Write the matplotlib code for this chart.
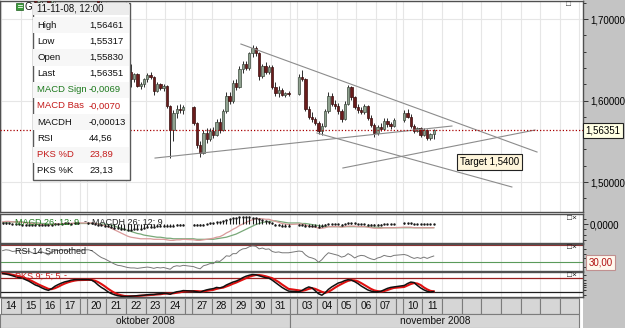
import matplotlib
matplotlib.use("Agg")
import matplotlib.pyplot as plt
from matplotlib.patches import Rectangle
from matplotlib.ticker import MultipleLocator, FixedLocator
import matplotlib.transforms as mtrans
import pandas as pd

plt.rcParams['font.family'] = ['Liberation Sans', 'DejaVu Sans']

# ---------------- data ----------------
day_dates = ['2008-10-14', '2008-10-15', '2008-10-16', '2008-10-17', '2008-10-20',
             '2008-10-21', '2008-10-22', '2008-10-23', '2008-10-24', '2008-10-27',
             '2008-10-28', '2008-10-29', '2008-10-30', '2008-10-31', '2008-11-03',
             '2008-11-04', '2008-11-05', '2008-11-06', '2008-11-07', '2008-11-10',
             '2008-11-11']
day_labels = ['14', '15', '16', '17', '20', '21', '22', '23', '24', '27', '28', '29',
              '30', '31', '03', '04', '05', '06', '07', '10', '11']
month_labels = ['oktober 2008', 'november 2008']
bars_per_day = [6] * 20 + [4]
future_cells = 7

opens = [1.7460, 1.7490, 1.7530, 1.7500, 1.7430, 1.7420,
         1.7410, 1.7380, 1.7320, 1.7350, 1.7250, 1.7210,
         1.7240, 1.7270, 1.7230, 1.7150, 1.7230, 1.7310,
         1.7300, 1.7340, 1.7310, 1.7260, 1.7370, 1.7350,
         1.7330, 1.7370, 1.7360, 1.7280, 1.7200, 1.7150,
         1.7110, 1.7040, 1.6960, 1.6850, 1.6740, 1.6700,
         1.6590, 1.6350, 1.6260, 1.6320, 1.6180, 1.6200,
         1.6260, 1.6310, 1.6290, 1.6120, 1.6200, 1.6150,
         1.6180, 1.5930, 1.5640, 1.5850, 1.5900, 1.5880,
         1.5920, 1.5720, 1.5460, 1.5360, 1.5600, 1.5530,
         1.5620, 1.5580, 1.5740, 1.5640, 1.5870, 1.6060,
         1.5990, 1.6220, 1.6160, 1.6390, 1.6450, 1.6400,
         1.6580, 1.6640, 1.6580, 1.6300, 1.6420, 1.6350,
         1.6410, 1.6170, 1.6090, 1.6130, 1.6070, 1.6090,
         1.6080, 1.6290, 1.6260, 1.5900, 1.5800, 1.5770,
         1.5730, 1.5630, 1.5690, 1.5870, 1.6060, 1.5960,
         1.5930, 1.5870, 1.5770, 1.5960, 1.6160, 1.6040,
         1.5920, 1.5880, 1.5860, 1.5930, 1.5790, 1.5700,
         1.5600, 1.5670, 1.5650, 1.5750, 1.5710, 1.5690,
         1.5760, 1.5850, 1.5800, 1.5690, 1.5630, 1.5660,
         1.5580, 1.5640, 1.5540, 1.55830]
highs = [1.7520, 1.7560, 1.7580, 1.7540, 1.7470, 1.7450,
         1.7440, 1.7410, 1.7370, 1.7380, 1.7290, 1.7260,
         1.7290, 1.7310, 1.7260, 1.7250, 1.7330, 1.7340,
         1.7360, 1.7380, 1.7350, 1.7390, 1.7410, 1.7370,
         1.7390, 1.7420, 1.7380, 1.7300, 1.7230, 1.7180,
         1.7140, 1.7070, 1.6990, 1.6880, 1.6790, 1.6720,
         1.6620, 1.6450, 1.6340, 1.6340, 1.6230, 1.6280,
         1.6340, 1.6350, 1.6300, 1.6230, 1.6220, 1.6200,
         1.6190, 1.5950, 1.5880, 1.5940, 1.5960, 1.5950,
         1.5930, 1.5740, 1.5500, 1.5640, 1.5660, 1.5660,
         1.5680, 1.5770, 1.5780, 1.5900, 1.6100, 1.6110,
         1.6250, 1.6260, 1.6420, 1.6480, 1.6490, 1.6600,
         1.6680, 1.6670, 1.6600, 1.6450, 1.6470, 1.6440,
         1.6440, 1.6230, 1.6180, 1.6150, 1.6110, 1.6120,
         1.6320, 1.6380, 1.6280, 1.5930, 1.5860, 1.5800,
         1.5750, 1.5720, 1.5900, 1.6100, 1.6090, 1.6010,
         1.5970, 1.5890, 1.5990, 1.6190, 1.6180, 1.6060,
         1.5960, 1.5920, 1.5960, 1.5950, 1.5820, 1.5720,
         1.5700, 1.5720, 1.5780, 1.5790, 1.5740, 1.5780,
         1.5880, 1.5900, 1.5830, 1.5710, 1.5680, 1.5680,
         1.5660, 1.5650, 1.5600, 1.56461]
lows = [1.7420, 1.7470, 1.7480, 1.7410, 1.7380, 1.7390,
        1.7360, 1.7300, 1.7280, 1.7230, 1.7180, 1.7190,
        1.7200, 1.7220, 1.7110, 1.7130, 1.7210, 1.7270,
        1.7280, 1.7290, 1.7230, 1.7240, 1.7320, 1.7320,
        1.7310, 1.7340, 1.7250, 1.7180, 1.7120, 1.7080,
        1.7020, 1.6930, 1.6820, 1.6700, 1.6660, 1.6560,
        1.6330, 1.6170, 1.6230, 1.6160, 1.6140, 1.6170,
        1.6230, 1.6270, 1.6070, 1.6100, 1.6130, 1.6120,
        1.5910, 1.5290, 1.5500, 1.5790, 1.5850, 1.5840,
        1.5700, 1.5420, 1.5310, 1.5340, 1.5480, 1.5500,
        1.5540, 1.5560, 1.5600, 1.5620, 1.5850, 1.5960,
        1.5970, 1.6130, 1.6150, 1.6340, 1.6380, 1.6380,
        1.6540, 1.6550, 1.6250, 1.6280, 1.6320, 1.6330,
        1.6140, 1.6050, 1.6040, 1.6050, 1.6040, 1.6050,
        1.6070, 1.6240, 1.5870, 1.5770, 1.5740, 1.5700,
        1.5590, 1.5580, 1.5670, 1.5850, 1.5930, 1.5900,
        1.5840, 1.5740, 1.5760, 1.5950, 1.6010, 1.5900,
        1.5850, 1.5830, 1.5840, 1.5760, 1.5680, 1.5550,
        1.5580, 1.5620, 1.5640, 1.5680, 1.5650, 1.5670,
        1.5740, 1.5780, 1.5660, 1.5600, 1.5610, 1.5550,
        1.5570, 1.5510, 1.5520, 1.55317]
closes = [1.7490, 1.7530, 1.7500, 1.7430, 1.7420, 1.7410,
          1.7380, 1.7320, 1.7350, 1.7250, 1.7210, 1.7240,
          1.7270, 1.7230, 1.7150, 1.7230, 1.7310, 1.7300,
          1.7340, 1.7310, 1.7260, 1.7370, 1.7350, 1.7330,
          1.7370, 1.7360, 1.7280, 1.7200, 1.7150, 1.7110,
          1.7040, 1.6960, 1.6850, 1.6740, 1.6700, 1.6590,
          1.6350, 1.6260, 1.6320, 1.6180, 1.6200, 1.6260,
          1.6310, 1.6290, 1.6120, 1.6200, 1.6150, 1.6180,
          1.5930, 1.5640, 1.5850, 1.5900, 1.5880, 1.5920,
          1.5720, 1.5460, 1.5360, 1.5600, 1.5530, 1.5620,
          1.5580, 1.5740, 1.5640, 1.5870, 1.6060, 1.5990,
          1.6220, 1.6160, 1.6390, 1.6450, 1.6400, 1.6580,
          1.6640, 1.6580, 1.6300, 1.6420, 1.6350, 1.6410,
          1.6170, 1.6090, 1.6130, 1.6070, 1.6090, 1.6080,
          1.6290, 1.6260, 1.5900, 1.5800, 1.5770, 1.5730,
          1.5630, 1.5690, 1.5870, 1.6060, 1.5960, 1.5930,
          1.5870, 1.5770, 1.5960, 1.6160, 1.6040, 1.5920,
          1.5880, 1.5860, 1.5930, 1.5790, 1.5700, 1.5600,
          1.5670, 1.5650, 1.5750, 1.5710, 1.5690, 1.5760,
          1.5850, 1.5800, 1.5690, 1.5630, 1.5660, 1.5580,
          1.5640, 1.5540, 1.5583, 1.56351]

macd_bas = [0.004, 0.005, 0.005, 0.004, 0.004, 0.004,
            0.003, 0.002, 0.002, 0.001, 0.000, 0.000,
            -0.001, -0.001, -0.002, -0.001, 0.000, 0.000,
            0.000, 0.001, 0.001, 0.001, 0.002, 0.002,
            0.002, 0.002, 0.001, 0.000, -0.002, -0.003,
            -0.005, -0.008, -0.011, -0.014, -0.017, -0.020,
            -0.023, -0.025, -0.026, -0.027, -0.028, -0.028,
            -0.028, -0.028, -0.029, -0.029, -0.029, -0.029,
            -0.030, -0.031, -0.031, -0.030, -0.030, -0.029,
            -0.030, -0.031, -0.031, -0.030, -0.029, -0.028,
            -0.027, -0.025, -0.024, -0.021, -0.017, -0.014,
            -0.010, -0.007, -0.003, 0.000, 0.003, 0.006,
            0.008, 0.010, 0.010, 0.010, 0.009, 0.009,
            0.007, 0.005, 0.003, 0.001, 0.000, -0.001,
            0.000, 0.000, -0.002, -0.004, -0.005, -0.006,
            -0.008, -0.008, -0.007, -0.005, -0.005, -0.005,
            -0.005, -0.006, -0.005, -0.004, -0.004, -0.004,
            -0.005, -0.005, -0.005, -0.006, -0.007, -0.008,
            -0.008, -0.008, -0.007, -0.007, -0.007, -0.007,
            -0.006, -0.006, -0.006, -0.007, -0.007, -0.007,
            -0.007, -0.007, -0.007, -0.0070]
macd_sign = [0.003, 0.003, 0.004, 0.004, 0.004, 0.004,
             0.004, 0.003, 0.003, 0.003, 0.002, 0.002,
             0.001, 0.001, 0.000, 0.000, 0.000, 0.000,
             0.000, 0.000, 0.000, 0.001, 0.001, 0.001,
             0.001, 0.001, 0.001, 0.001, 0.000, 0.000,
             -0.001, -0.002, -0.004, -0.006, -0.008, -0.010,
             -0.012, -0.014, -0.016, -0.018, -0.019, -0.021,
             -0.022, -0.023, -0.024, -0.025, -0.025, -0.026,
             -0.027, -0.027, -0.028, -0.028, -0.028, -0.028,
             -0.028, -0.029, -0.029, -0.029, -0.029, -0.029,
             -0.029, -0.028, -0.027, -0.026, -0.025, -0.023,
             -0.021, -0.019, -0.016, -0.013, -0.010, -0.007,
             -0.004, -0.001, 0.001, 0.003, 0.004, 0.005,
             0.006, 0.006, 0.005, 0.004, 0.003, 0.002,
             0.002, 0.001, 0.001, 0.000, -0.001, -0.002,
             -0.003, -0.004, -0.005, -0.005, -0.005, -0.005,
             -0.005, -0.005, -0.005, -0.005, -0.005, -0.005,
             -0.005, -0.005, -0.005, -0.005, -0.006, -0.006,
             -0.006, -0.007, -0.007, -0.007, -0.007, -0.007,
             -0.007, -0.007, -0.007, -0.007, -0.007, -0.007,
             -0.007, -0.007, -0.007, -0.0069]
macd_hist = [0.001, 0.002, 0.001, 0.000, 0.000, 0.000,
             -0.001, -0.001, -0.001, -0.002, -0.002, -0.002,
             -0.002, -0.002, -0.002, -0.001, 0.000, 0.000,
             0.000, 0.001, 0.001, 0.000, 0.001, 0.001,
             0.001, 0.001, 0.000, -0.001, -0.002, -0.003,
             -0.004, -0.006, -0.007, -0.008, -0.009, -0.010,
             -0.011, -0.011, -0.010, -0.009, -0.009, -0.007,
             -0.006, -0.005, -0.005, -0.004, -0.004, -0.003,
             -0.003, -0.004, -0.003, -0.002, -0.002, -0.001,
             -0.002, -0.002, -0.002, -0.001, 0.000, 0.001,
             0.002, 0.003, 0.003, 0.005, 0.008, 0.009,
             0.011, 0.012, 0.013, 0.013, 0.013, 0.013,
             0.012, 0.011, 0.009, 0.007, 0.005, 0.004,
             0.001, -0.001, -0.002, -0.003, -0.003, -0.003,
             -0.002, -0.001, -0.003, -0.004, -0.004, -0.004,
             -0.005, -0.004, -0.002, 0.000, 0.000, 0.000,
             0.000, -0.001, 0.000, 0.001, 0.001, 0.001,
             0.000, 0.000, 0.000, -0.001, -0.001, -0.002,
             -0.002, -0.001, 0.000, 0.000, 0.000, 0.000,
             0.001, 0.001, 0.001, 0.000, 0.000, 0.000,
             0.000, 0.000, 0.000, -0.00013]
rsi = [57, 59, 58, 55, 56, 58,
       57, 55, 56, 52, 50, 53,
       54, 51, 47, 53, 58, 57,
       59, 58, 55, 60, 59, 58,
       59, 57, 52, 46, 41, 38,
       34, 30, 26, 23, 22, 20,
       18, 17, 17, 16, 17, 18,
       19, 18, 16, 18, 17, 18,
       16, 14, 20, 22, 21, 23,
       20, 17, 15, 22, 24, 27,
       27, 33, 32, 38, 45, 44,
       50, 50, 57, 61, 62, 66,
       68, 67, 61, 63, 60, 61,
       55, 53, 54, 52, 52, 52,
       56, 55, 47, 42, 40, 37,
       30, 36, 45, 52, 50, 48,
       46, 42, 44, 50, 46, 40,
       44, 46, 45, 41, 38, 36,
       40, 42, 46, 44, 43, 46,
       48, 46, 42, 39, 41, 39,
       42, 39, 42, 44.56]
pks_k = [97, 95, 92, 88, 84, 80,
         78, 72, 66, 58, 50, 45,
         38, 32, 28, 35, 45, 52,
         58, 63, 66, 70, 72, 72,
         72, 70, 62, 50, 40, 32,
         22, 15, 10, 6, 4, 3,
         3, 4, 5, 6, 7, 8,
         10, 11, 11, 13, 14, 16,
         15, 12, 18, 22, 24, 27,
         25, 22, 20, 26, 30, 33,
         35, 40, 38, 42, 50, 56,
         62, 66, 72, 80, 86, 90,
         93, 92, 88, 84, 80, 78,
         70, 60, 50, 40, 32, 25,
         22, 28, 36, 42, 38, 26,
         14, 8, 18, 32, 42, 50,
         58, 62, 68, 72, 70, 64,
         56, 46, 38, 30, 25, 22,
         22, 24, 30, 36, 40, 42,
         48, 56, 62, 60, 48, 38,
         30, 24, 21, 23.13]
pks_d = [98, 97, 95, 92, 89, 86,
         82, 78, 72, 66, 59, 52,
         46, 40, 34, 33, 37, 43,
         50, 56, 61, 65, 68, 70,
         71, 71, 68, 62, 54, 45,
         35, 26, 18, 12, 8, 5,
         4, 4, 4, 5, 6, 7,
         8, 9, 10, 11, 12, 14,
         15, 15, 16, 18, 20, 23,
         25, 25, 24, 24, 26, 28,
         30, 34, 37, 39, 44, 49,
         55, 60, 66, 72, 78, 84,
         88, 91, 91, 89, 86, 82,
         78, 70, 62, 52, 43, 34,
         28, 26, 29, 34, 37, 34,
         28, 22, 18, 22, 30, 39,
         47, 54, 61, 67, 70, 69,
         65, 58, 50, 42, 34, 28,
         25, 23, 25, 29, 34, 38,
         42, 48, 54, 58, 56, 50,
         40, 32, 26, 23.89]

last_price = 1.56351
rsi_level = 30
rsi_upper = 70
pks_levels = (20, 80)

info_time = '11-11-08, 12:00'
info_labels = ['High', 'Low', 'Open', 'Last', 'MACD Sign', 'MACD Bas', 'MACDH',
               'RSI', 'PKS %D', 'PKS %K']
info_values = ['1,56461', '1,55317', '1,55830', '1,56351', '-0,0069', '-0,0070',
               '-0,00013', '44,56', '23,89', '23,13']
info_colors = ['#111111', '#111111', '#111111', '#111111', '#1d7a1d', '#c41a1a',
               '#111111', '#111111', '#c41a1a', '#111111']

# drawn trend lines: (x in trading-day units, price)
trend_lines = [((12.21, 1.6693), (27.28, 1.5368)),
               ((7.84, 1.5294), (22.95, 1.5687)),
               ((16.08, 1.5601), (26.00, 1.4939)),
               ((17.40, 1.5172), (27.18, 1.5638))]
target_text = 'Target 1,5400'
target_pos = (24.86, 1.5245)

# ---------------- layout helpers ----------------
W, H = 625, 328
fig = plt.figure(figsize=(W / 100, H / 100), dpi=100)
fig.patch.set_facecolor('white')
fig.add_artist(Rectangle((583 / W, 0), 42 / W, 1, transform=fig.transFigure,
                         fc='#c4c4c4', ec='none', zorder=0))


def px_axes(x0, y0, x1, y1, **kw):
    return fig.add_axes([x0 / W, 1 - y1 / H, (x1 - x0) / W, (y1 - y0) / H], **kw)


GAP = 0.36
dates = pd.to_datetime(day_dates)
starts = []
u = 0.0
for i, d in enumerate(dates):
    if i > 0:
        u += 1.0
        if (d - dates[i - 1]).days > 1:
            u += GAP
    starts.append(u)
bar_x = []
for s, n in zip(starts, bars_per_day):
    for j in range(n):
        bar_x.append(s + (j + 0.5) / 6.0)
last_end = starts[-1] + 1.0
future_starts = [last_end + k for k in range(future_cells)]
edges = sorted(set(starts + [s + 1 for s in starts] + future_starts +
                   [f + 1 for f in future_starts]))
XL = (-0.05, 29.62)
SPINE = '#505050'


def style_panel(a):
    a.set_xlim(*XL)
    a.set_xticks([])
    for sp in a.spines.values():
        sp.set_color(SPINE)
        sp.set_linewidth(1.0)
    for e in edges:
        a.axvline(e, color='#e6e6e6', lw=0.8, zorder=0)
    a.yaxis.tick_right()
    a.tick_params(axis='y', which='both', direction='out', color='#333333',
                  labelsize=7, pad=1.5, width=0.7)
    a.tick_params(axis='y', which='major', length=3.5)
    a.tick_params(axis='y', which='minor', length=2.5)


# ---------------- main price panel ----------------
ax = px_axes(0, 1, 583, 212)
style_panel(ax)
ax.set_ylim(1.4632, 1.7221)
for p in (1.5, 1.6, 1.7):
    ax.axhline(p, color='#e6e6e6', lw=0.8, zorder=0)
ax.set_yticks([1.5, 1.6, 1.7])
ax.set_yticklabels(['1,50000', '1,60000', '1,70000'])
ax.yaxis.set_minor_locator(MultipleLocator(0.02))

bw = 0.12
for x, o, h, l, c in zip(bar_x, opens, highs, lows, closes):
    up = c >= o
    ax.vlines(x, l, h, color='#2b2b2b', lw=0.7, zorder=2)
    lo, hi = min(o, c), max(o, c)
    ax.add_patch(Rectangle((x - bw / 2, lo), bw, max(hi - lo, 0.0004),
                           fc='#90a290' if up else '#6a1c1c',
                           ec='#3d4a3d' if up else '#3a0e0e', lw=0.5, zorder=3))

for (x1, y1), (x2, y2) in trend_lines:
    ax.plot([x1, x2], [y1, y2], color='#8c8c8c', lw=0.8, zorder=4)
ax.axhline(last_price, color='#a80000', lw=0.9, ls=(0, (1, 1.6)), zorder=5)
ax.text(*target_pos, target_text, ha='center', va='center', fontsize=7, zorder=6,
        bbox=dict(boxstyle='square,pad=0.3', fc='#fff6dc', ec='#222222', lw=0.8))
tr = mtrans.blended_transform_factory(ax.transAxes, ax.transData)
ax.text(1.004, last_price, '1,56351', transform=tr, ha='left', va='center',
        fontsize=7, zorder=6, clip_on=False,
        bbox=dict(boxstyle='square,pad=0.25', fc='#ffffe4', ec='#222222', lw=0.8))

# ---------------- MACD panel ----------------
am = px_axes(0, 214, 583, 243)
style_panel(am)
am.set_ylim(-0.036, 0.019)
am.plot(bar_x, macd_sign, color='#78a878', lw=0.9, zorder=3)
am.plot(bar_x, macd_bas, color='#d99a9a', lw=0.9, zorder=3)
am.vlines(bar_x, 0, macd_hist, color='#1a1a1a', lw=0.8, zorder=4)
am.plot(bar_x, macd_hist, ls='none', marker='s', ms=0.7, color='#1a1a1a', zorder=4)
am.set_yticks([0])
am.set_yticklabels(['0,0000'])
am.yaxis.set_minor_locator(MultipleLocator(0.01))

# ---------------- RSI panel ----------------
ar = px_axes(0, 244, 583, 271)
style_panel(ar)
ar.set_ylim(9.9, 72.3)
ar.axhline(rsi_upper, color='#9a3030', lw=0.8, zorder=2)
ar.axhline(rsi_level, color='#5a9a5a', lw=0.8, zorder=2)
ar.plot(bar_x, rsi, color='#777777', lw=0.7, zorder=3)
ar.set_yticks([])
ar.yaxis.set_minor_locator(FixedLocator([20, 40, 50, 60]))
trr = mtrans.blended_transform_factory(ar.transAxes, ar.transData)
ar.text(1.01, rsi_level, '30,00', transform=trr, color='#b01010', fontsize=7,
        ha='left', va='center', clip_on=False, zorder=6,
        bbox=dict(boxstyle='square,pad=0.25', fc='#fff8ee', ec='#c09090', lw=0.8))

# ---------------- PKS panel ----------------
ap = px_axes(0, 272, 583, 297)
style_panel(ap)
ap.set_ylim(0.7, 103.4)
ap.axhline(pks_levels[1], color='#9a2020', lw=0.9, zorder=2)
ap.axhline(pks_levels[0], color='#202020', lw=0.9, zorder=2)
ap.plot(bar_x, pks_d, color='#e01010', lw=1.5, zorder=3)
ap.plot(bar_x, pks_k, color='#111111', lw=1.1, zorder=4)
ap.set_yticks([])
ap.yaxis.set_minor_locator(FixedLocator([10, 30, 40, 50, 60, 70, 90]))

# ---------------- date rows ----------------
ad = px_axes(0, 297, 583, 328)
ad.set_xlim(*XL)
ad.set_ylim(31, 0)
ad.axis('off')
cell_fc, cell_ec = '#d6d6d6', '#7c7c7c'
for s, lab in zip(starts, day_labels):
    ad.add_patch(Rectangle((s, 0.5), 1.0, 16.5, fc=cell_fc, ec=cell_ec, lw=0.8))
    ad.text(s + 0.5, 9.0, lab, ha='center', va='center', fontsize=7.3, color='#111111')
for i in range(1, len(starts)):
    if starts[i] - starts[i - 1] > 1.01:
        ad.add_patch(Rectangle((starts[i - 1] + 1, 0.5), starts[i] - starts[i - 1] - 1,
                               16.5, fc=cell_fc, ec=cell_ec, lw=0.8))
for f in future_starts:
    ad.add_patch(Rectangle((f, 0.5), 1.0, 16.5, fc=cell_fc, ec=cell_ec, lw=0.8))
oct_end = starts[13] + 1.0
ad.add_patch(Rectangle((XL[0], 17), oct_end - XL[0], 14, fc=cell_fc, ec=cell_ec, lw=0.8))
ad.add_patch(Rectangle((oct_end, 17), future_starts[-1] + 1 - oct_end, 14,
                       fc=cell_fc, ec=cell_ec, lw=0.8))
ad.text((XL[0] + oct_end) / 2, 24.3, month_labels[0], ha='center', va='center',
        fontsize=7.3, color='#111111')
ad.text((oct_end + future_starts[-1] + 1) / 2, 24.3, month_labels[1], ha='center',
        va='center', fontsize=7.3, color='#111111')

# ---------------- overlay: info box, icons, labels ----------------
ov = fig.add_axes([0, 0, 1, 1], zorder=10)
ov.set_xlim(0, W)
ov.set_ylim(H, 0)
ov.axis('off')
ov.patch.set_alpha(0)

ov.add_patch(Rectangle((16, 3), 7, 6.5, fc='#3c9c3c', ec='#1f5f1f', lw=0.5))
ov.plot([17.5, 21.5], [5.2, 5.2], color='white', lw=0.6)
ov.plot([17.5, 21.5], [7.3, 7.3], color='white', lw=0.6)
ov.text(24.5, 7, 'G', fontsize=7, va='center', ha='left', color='#111111')

ov.add_patch(Rectangle((32.5, 2.5), 97.5, 177, fc='white', ec='#5a5a5a', lw=1.0))
ov.add_patch(Rectangle((33.2, 3.2), 96, 12, fc='#ececec', ec='none'))
for i in range(len(info_labels)):
    yc = 25 + i * 16.2
    if i % 2 == 0:
        ov.add_patch(Rectangle((33.2, yc - 8.1), 96, 16.2, fc='#f7f7f7', ec='none'))
ov.text(37, 8.5, info_time, fontsize=6.9, va='center', ha='left', color='#111111')
for i, (lab, val, col) in enumerate(zip(info_labels, info_values, info_colors)):
    yc = 25 + i * 16.2
    ov.text(37, yc, lab, fontsize=6.8, va='center', ha='left', color=col)
    ov.text(89, yc, val, fontsize=6.8, va='center', ha='left', color=col)

ov.text(15, 222, 'MACD 26; 12; 9', color='#1d7a1d', fontsize=6.5, va='center')
ov.text(84, 222, '-', color='#333333', fontsize=6.5, va='center')
ov.text(92.5, 222, 'MACDH 26; 12; 9', color='#222222', fontsize=6.5, va='center')
ov.text(15, 251, 'RSI 14 Smoothed', color='#222222', fontsize=6.5, va='center')
ov.text(90, 251, '-', color='#333333', fontsize=6.5, va='center')
ov.text(15, 276, 'PKS 9; 5; 5', color='#c41a1a', fontsize=6.5, va='center')
ov.text(64, 276, '-', color='#c41a1a', fontsize=6.5, va='center')

ov.text(566, 5, '\u25a1', fontsize=6, va='center', ha='left', color='#333333')
for yy in (218.5, 247.5, 275.5):
    ov.text(567, yy, '\u25a1\u00d7', fontsize=6, va='center', ha='left', color='#222222')

fig.savefig('out.png', dpi=100, facecolor='white')
